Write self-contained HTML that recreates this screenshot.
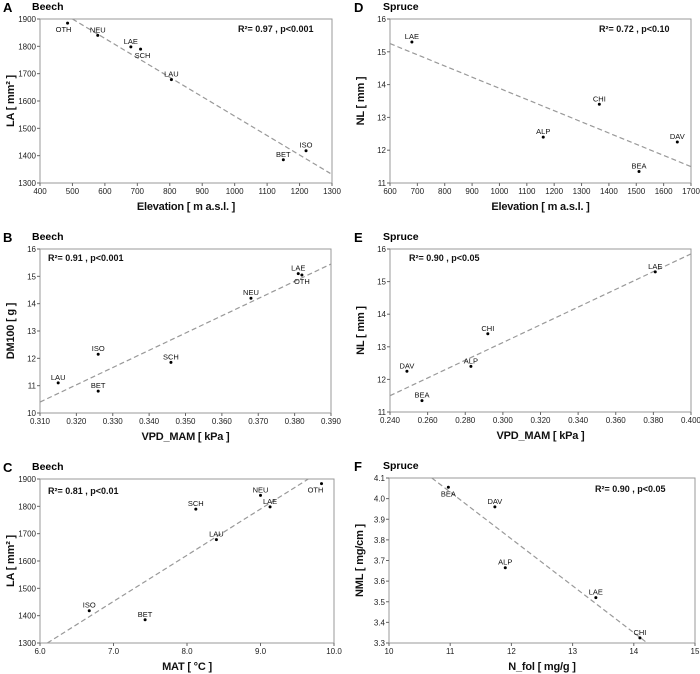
<!DOCTYPE html>
<html><head><meta charset="utf-8"><style>
body{margin:0;background:#fff;}
svg{display:block;font-family:"Liberation Sans",Arial,sans-serif;}
.tk{font-size:8px;fill:#222;}
.pl{font-size:7.5px;fill:#111;}
.at{font-size:11px;font-weight:bold;fill:#111;letter-spacing:-0.2px;}
.ann{font-size:9px;font-weight:bold;fill:#111;}
.let{font-size:13px;font-weight:bold;}
.ttl{font-size:10.5px;font-weight:bold;}
</style></head><body>
<svg id="fig" width="700" height="674"></svg>
<script>
// Panel A: Beech LA vs Elevation
const aSites=["OTH","NEU","LAE","SCH","LAU","BET","ISO"];
const aX=[485,578,680,710,805,1150,1220];
const aY=[1885,1840,1798,1790,1678,1385,1418];
const aLine=[[500,1900],[1295,1335]];
const aXTicks=[400,500,600,700,800,900,1000,1100,1200,1300];
const aYTicks=[1300,1400,1500,1600,1700,1800,1900];
// Panel D: Spruce NL vs Elevation
const dSites=["LAE","ALP","CHI","BEA","DAV"];
const dX=[680,1160,1365,1510,1650];
const dY=[15.3,12.4,13.4,11.35,12.25];
const dLine=[[600,15.25],[1700,11.5]];
const dXTicks=[600,700,800,900,1000,1100,1200,1300,1400,1500,1600,1700];
const dYTicks=[11,12,13,14,15,16];
// Panel B: Beech DM100 vs VPD
const bSites=["LAU","ISO","BET","SCH","NEU","LAE","OTH"];
const bX=[0.315,0.326,0.326,0.346,0.368,0.381,0.382];
const bY=[11.1,12.15,10.8,11.85,14.2,15.1,15.05];
const bLine=[[0.31,10.4],[0.39,15.45]];
const bXTicks=[0.31,0.32,0.33,0.34,0.35,0.36,0.37,0.38,0.39];
const bYTicks=[10,11,12,13,14,15,16];
// Panel E: Spruce NL vs VPD
const eSites=["DAV","BEA","ALP","CHI","LAE"];
const eX=[0.249,0.257,0.283,0.292,0.381];
const eY=[12.25,11.35,12.4,13.4,15.3];
const eLine=[[0.24,11.5],[0.40,15.85]];
const eXTicks=[0.24,0.26,0.28,0.30,0.32,0.34,0.36,0.38,0.40];
const eYTicks=[11,12,13,14,15,16];
// Panel C: Beech LA vs MAT
const cSites=["ISO","BET","SCH","LAU","NEU","LAE","OTH"];
const cX=[6.67,7.43,8.12,8.4,9.0,9.13,9.83];
const cY=[1418,1385,1790,1678,1840,1798,1883];
const cLine=[[6.1,1300],[9.65,1900]];
const cXTicks=[6,7,8,9,10];
const cYTicks=[1300,1400,1500,1600,1700,1800,1900];
// Panel F: Spruce NML vs N_fol
const fSites=["BEA","DAV","ALP","LAE","CHI"];
const fX=[10.97,11.73,11.9,13.38,14.1];
const fY=[4.055,3.96,3.665,3.52,3.325];
const fLine=[[10.7,4.1],[14.22,3.3]];
const fXTicks=[10,11,12,13,14,15];
const fYTicks=[3.3,3.4,3.5,3.6,3.7,3.8,3.9,4.0,4.1];

const NS="http://www.w3.org/2000/svg";
const svg=document.getElementById('fig');
function mk(tag,attrs,parent,txt){const e=document.createElementNS(NS,tag);for(const k in attrs)e.setAttribute(k,attrs[k]);if(txt!==undefined)e.textContent=txt;(parent||svg).appendChild(e);return e;}

function panel(cfg){
  const g=mk('g',{});
  
  
  const [L,T,R,B]=cfg.box;
  const x0=cfg.xt[0],x1=cfg.xt[cfg.xt.length-1],y0=cfg.yt[0],y1=cfg.yt[cfg.yt.length-1];
  const sx=v=>L+(v-x0)/(x1-x0)*(R-L);
  const sy=v=>B-(v-y0)/(y1-y0)*(B-T);
  const fr=mk('rect',{x:L,y:T,width:R-L,height:B-T,fill:'none',stroke:'#999','stroke-width':1},g);
  
  const lt=mk('text',{x:cfg.lx,y:T-7,class:'let'},g,cfg.letter);
  
  const tt=mk('text',{x:cfg.lx+29,y:T-9,class:'ttl'},g,cfg.title);
  
  cfg.xt.forEach(v=>{const x=sx(v);
    mk('line',{x1:x,x2:x,y1:B,y2:B+3,stroke:'#666'},g);
    const t=mk('text',{x:x,y:B+11,class:'tk','text-anchor':'middle'},g,v.toFixed(cfg.xd));
    });
  cfg.yt.forEach(v=>{const y=sy(v);
    mk('line',{x1:L-3,x2:L,y1:y,y2:y,stroke:'#666'},g);
    const t=mk('text',{x:L-4,y:y+3,class:'tk','text-anchor':'end'},g,v.toFixed(cfg.yd));
    });
  const xa=mk('text',{x:(L+R)/2,y:B+27,class:'at','text-anchor':'middle'},g,cfg.xl);
  
  const yx=L-26,yy=(T+B)/2;
  const ya=mk('text',{x:yx,y:yy,class:'at','text-anchor':'middle',transform:`rotate(-90 ${yx} ${yy})`},g,cfg.yl);
  
  const ln=mk('line',{x1:sx(cfg.line[0][0]),y1:sy(cfg.line[0][1]),x2:sx(cfg.line[1][0]),y2:sy(cfg.line[1][1]),stroke:'#999','stroke-width':1.2,'stroke-dasharray':'5,3'},g);
  
  cfg.sites.forEach((s,i)=>{const px=sx(cfg.x[i]),py=sy(cfg.y[i]);
    const c=mk('circle',{cx:px,cy:py,r:1.5,fill:'#000'},g);
    
    const below=(cfg.below||[]).includes(s);
    const dx=(cfg.shift&&cfg.shift[s])||0;
    const t=mk('text',{x:px+dx,y:below?py+9:py-3,class:'pl','text-anchor':'middle'},g,s);
    });
  const an=mk('text',{x:cfg.ann[0],y:cfg.ann[1],class:'ann'},g,cfg.annT);
  
}
panel({letter:'A',title:'Beech',lx:3,box:[40,19,332,183],xt:aXTicks,yt:aYTicks,xd:0,yd:0,xl:'Elevation [ m a.s.l. ]',yl:'LA [ mm² ]',sites:aSites,x:aX,y:aY,line:aLine,below:['OTH','SCH'],shift:{OTH:-4,SCH:2},ann:[238,32],annT:'R²= 0.97 ,  p<0.001'});
panel({letter:'D',title:'Spruce',lx:354,box:[390,19,691,183],xt:dXTicks,yt:dYTicks,xd:0,yd:0,xl:'Elevation [ m a.s.l. ]',yl:'NL [ mm ]',sites:dSites,x:dX,y:dY,line:dLine,ann:[599,32],annT:'R²= 0.72 ,  p<0.10'});
panel({letter:'B',title:'Beech',lx:3,box:[40,249,331,413],xt:bXTicks,yt:bYTicks,xd:3,yd:0,xl:'VPD_MAM [ kPa ]',yl:'DM100 [ g ]',sites:bSites,x:bX,y:bY,line:bLine,below:['OTH'],ann:[48,261],annT:'R²= 0.91 ,  p<0.001'});
panel({letter:'E',title:'Spruce',lx:354,box:[390,249,691,412],xt:eXTicks,yt:eYTicks,xd:3,yd:0,xl:'VPD_MAM [ kPa ]',yl:'NL [ mm ]',sites:eSites,x:eX,y:eY,line:eLine,ann:[409,261],annT:'R²= 0.90 ,  p<0.05'});
panel({letter:'C',title:'Beech',lx:3,box:[40,479,334,643],xt:cXTicks,yt:cYTicks,xd:1,yd:0,xl:'MAT [ °C ]',yl:'LA [ mm² ]',sites:cSites,x:cX,y:cY,line:cLine,below:['OTH'],shift:{OTH:-6},ann:[48,494],annT:'R²= 0.81 ,  p<0.01'});
panel({letter:'F',title:'Spruce',lx:354,box:[389,478,695,643],xt:fXTicks,yt:fYTicks,xd:0,yd:1,xl:'N_fol [ mg/g ]',yl:'NML [ mg/cm ]',sites:fSites,x:fX,y:fY,line:fLine,below:['BEA'],ann:[595,492],annT:'R²= 0.90 ,  p<0.05'});
</script>
</body></html>
